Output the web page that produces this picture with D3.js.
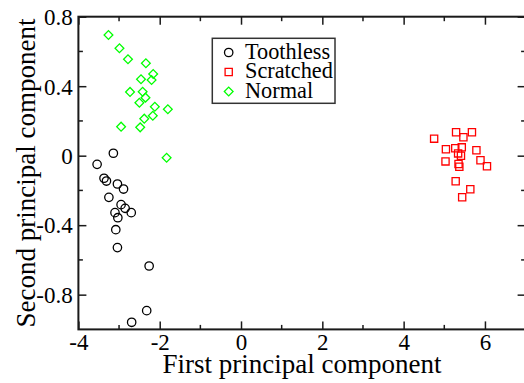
<!DOCTYPE html>
<html>
<head>
<meta charset="utf-8">
<script src="https://cdn.jsdelivr.net/npm/d3@7"></script>
<style>
  html, body { margin: 0; padding: 0; background: #fff; }
  svg { display: block; }
</style>
</head>
<body>
<svg id="chart" width="524" height="383"></svg>
<script>
// PCA scores of three gear conditions (first vs second principal component)
const toothlessX = [-3.14, -3.54, -3.37, -3.31, -3.04, -2.89, -3.25, -2.95, -2.85, -2.70, -3.10, -3.03, -3.08, -3.04, -2.26, -2.32, -2.69];
const toothlessY = [0.014, -0.050, -0.130, -0.146, -0.163, -0.192, -0.240, -0.282, -0.303, -0.328, -0.328, -0.357, -0.426, -0.529, -0.635, -0.892, -0.959];

const scratchedX = [4.75, 5.29, 5.47, 5.68, 5.04, 5.27, 5.43, 5.34, 5.41, 5.79, 5.03, 5.35, 5.37, 5.89, 6.05, 5.28, 5.64, 5.44];
const scratchedY = [0.098, 0.135, 0.106, 0.135, 0.037, 0.043, 0.048, 0.013, 0.000, 0.031, -0.033, -0.048, -0.064, -0.026, -0.061, -0.147, -0.193, -0.239];

const normalX = [-3.26, -2.99, -2.78, -2.34, -2.16, -2.46, -2.20, -2.73, -2.42, -2.35, -2.50, -2.12, -1.80, -2.17, -2.38, -2.95, -2.48, -1.83];
const normalY = [0.695, 0.618, 0.555, 0.532, 0.470, 0.440, 0.436, 0.367, 0.368, 0.334, 0.305, 0.282, 0.267, 0.230, 0.213, 0.167, 0.163, -0.012];

const seriesNames = ["Toothless", "Scratched", "Normal"];
const xTicks = [-4, -2, 0, 2, 4, 6];
const xTickLabels = ["-4", "-2", "0", "2", "4", "6"];
const yTicks = [0.8, 0.4, 0, -0.4, -0.8];
const yTickLabels = ["0.8", "0.4", "0", "-0.4", "-0.8"];

const serif = "'Liberation Serif', 'Times New Roman', serif";

const svg = d3.select("#chart");

const x = d3.scaleLinear().domain([-4, 7]).range([78.4, 525.6]);
const y = d3.scaleLinear().domain([-1, 0.8]).range([329.4, 16.7]);

const frameColor = "#1a1a1a";

// minor ticks every 1 on x, every 0.2 on y
const xMinor = d3.range(-3, 7, 2);
const yMinor = [0.6, 0.2, -0.2, -0.6];

const g = svg.append("g");

// bottom axis with inward ticks
const xAxis = g.append("g").attr("transform", `translate(0,${y(-1)})`)
  .call(d3.axisBottom(x).tickValues(xTicks).tickFormat((d, i) => xTickLabels[i])
    .tickSizeInner(-8).tickSizeOuter(0));
xAxis.attr("font-family", serif).attr("font-size", 23);
xAxis.select(".domain").remove();
xAxis.selectAll(".tick line").attr("stroke", frameColor).attr("stroke-width", 1.5);
xAxis.selectAll(".tick text").attr("y", 20.5).attr("dy", null)
  .attr("font-family", serif).attr("font-size", 23).attr("fill", "#000");

// left axis with inward ticks
const yAxis = g.append("g").attr("transform", `translate(${x(-4)},0)`)
  .call(d3.axisLeft(y).tickValues(yTicks).tickFormat((d, i) => yTickLabels[i])
    .tickSizeInner(-8).tickSizeOuter(0));
yAxis.attr("font-family", serif).attr("font-size", 23);
yAxis.select(".domain").remove();
yAxis.selectAll(".tick line").attr("stroke", frameColor).attr("stroke-width", 1.5);
yAxis.selectAll(".tick text").attr("x", -5.7).attr("dy", "0.34em")
  .attr("font-family", serif).attr("font-size", 23).attr("fill", "#000");

// top and right mirrored ticks
const topAxis = g.append("g").attr("transform", `translate(0,${y(0.8)})`)
  .call(d3.axisTop(x).tickValues(xTicks).tickFormat("").tickSizeInner(-8).tickSizeOuter(0));
topAxis.select(".domain").remove();
topAxis.selectAll(".tick line").attr("stroke", frameColor).attr("stroke-width", 1.5);

const rightAxis = g.append("g").attr("transform", `translate(${x(7)},0)`)
  .call(d3.axisRight(y).tickValues(yTicks).tickFormat("").tickSizeInner(-8).tickSizeOuter(0));
rightAxis.select(".domain").remove();
rightAxis.selectAll(".tick line").attr("stroke", frameColor).attr("stroke-width", 1.5);

// minor ticks
const minor = g.append("g").attr("stroke", frameColor).attr("stroke-width", 1.5);
xMinor.forEach(v => {
  minor.append("line").attr("x1", x(v)).attr("x2", x(v)).attr("y1", y(-1)).attr("y2", y(-1) - 4.5);
  minor.append("line").attr("x1", x(v)).attr("x2", x(v)).attr("y1", y(0.8)).attr("y2", y(0.8) + 4.5);
});
yMinor.forEach(v => {
  minor.append("line").attr("x1", x(-4)).attr("x2", x(-4) + 4.5).attr("y1", y(v)).attr("y2", y(v));
  minor.append("line").attr("x1", x(7)).attr("x2", x(7) - 4.5).attr("y1", y(v)).attr("y2", y(v));
});

// plot frame
g.append("rect")
  .attr("x", x(-4)).attr("y", y(0.8))
  .attr("width", x(7) - x(-4)).attr("height", y(-1) - y(0.8))
  .attr("fill", "none").attr("stroke", frameColor).attr("stroke-width", 2);

// axis titles
svg.append("text")
  .attr("x", (x(-4) + x(7)) / 2).attr("y", 372.5)
  .attr("text-anchor", "middle")
  .attr("font-family", serif).attr("font-size", 27)
  .text("First principal component");

svg.append("text")
  .attr("transform", `translate(34.5,${(y(0.8) + y(-1)) / 2}) rotate(-90)`)
  .attr("text-anchor", "middle")
  .attr("font-family", serif).attr("font-size", 27)
  .text("Second principal component");

// marker shapes
const circleSym = d3.symbol().type(d3.symbolCircle).size(Math.PI * 4.2 * 4.2);
const squareSym = d3.symbol().type(d3.symbolSquare).size(7.2 * 7.2);
const diamondSym = d3.symbol().type(d3.symbolSquare).size(6.2 * 6.2);

const styles = [
  { xs: toothlessX, ys: toothlessY, path: circleSym(), color: "#000000", rot: 0 },
  { xs: scratchedX, ys: scratchedY, path: squareSym(), color: "#ff0000", rot: 0 },
  { xs: normalX, ys: normalY, path: diamondSym(), color: "#00ff00", rot: 45 }
];

const marks = svg.append("g");
styles.forEach(s => {
  marks.append("g").selectAll("path")
    .data(d3.range(s.xs.length))
    .join("path")
    .attr("d", s.path)
    .attr("transform", i => `translate(${x(s.xs[i])},${y(s.ys[i])}) rotate(${s.rot})`)
    .attr("fill", "none")
    .attr("stroke", s.color)
    .attr("stroke-width", 1.3);
});

// legend
const legend = svg.append("g");
legend.append("rect")
  .attr("x", 212.3).attr("y", 38.3).attr("width", 122.7).attr("height", 65)
  .attr("fill", "#fff").attr("stroke", "#333").attr("stroke-width", 1.5);
seriesNames.forEach((name, i) => {
  const cy = 52.5 + i * 19.5;
  legend.append("path")
    .attr("d", styles[i].path)
    .attr("transform", `translate(228.7,${cy}) rotate(${styles[i].rot})`)
    .attr("fill", "none").attr("stroke", styles[i].color).attr("stroke-width", 1.3);
  legend.append("text")
    .attr("x", 245).attr("y", cy + 6.3)
    .attr("font-family", serif).attr("font-size", 22.3)
    .text(name);
});
</script>
</body>
</html>
